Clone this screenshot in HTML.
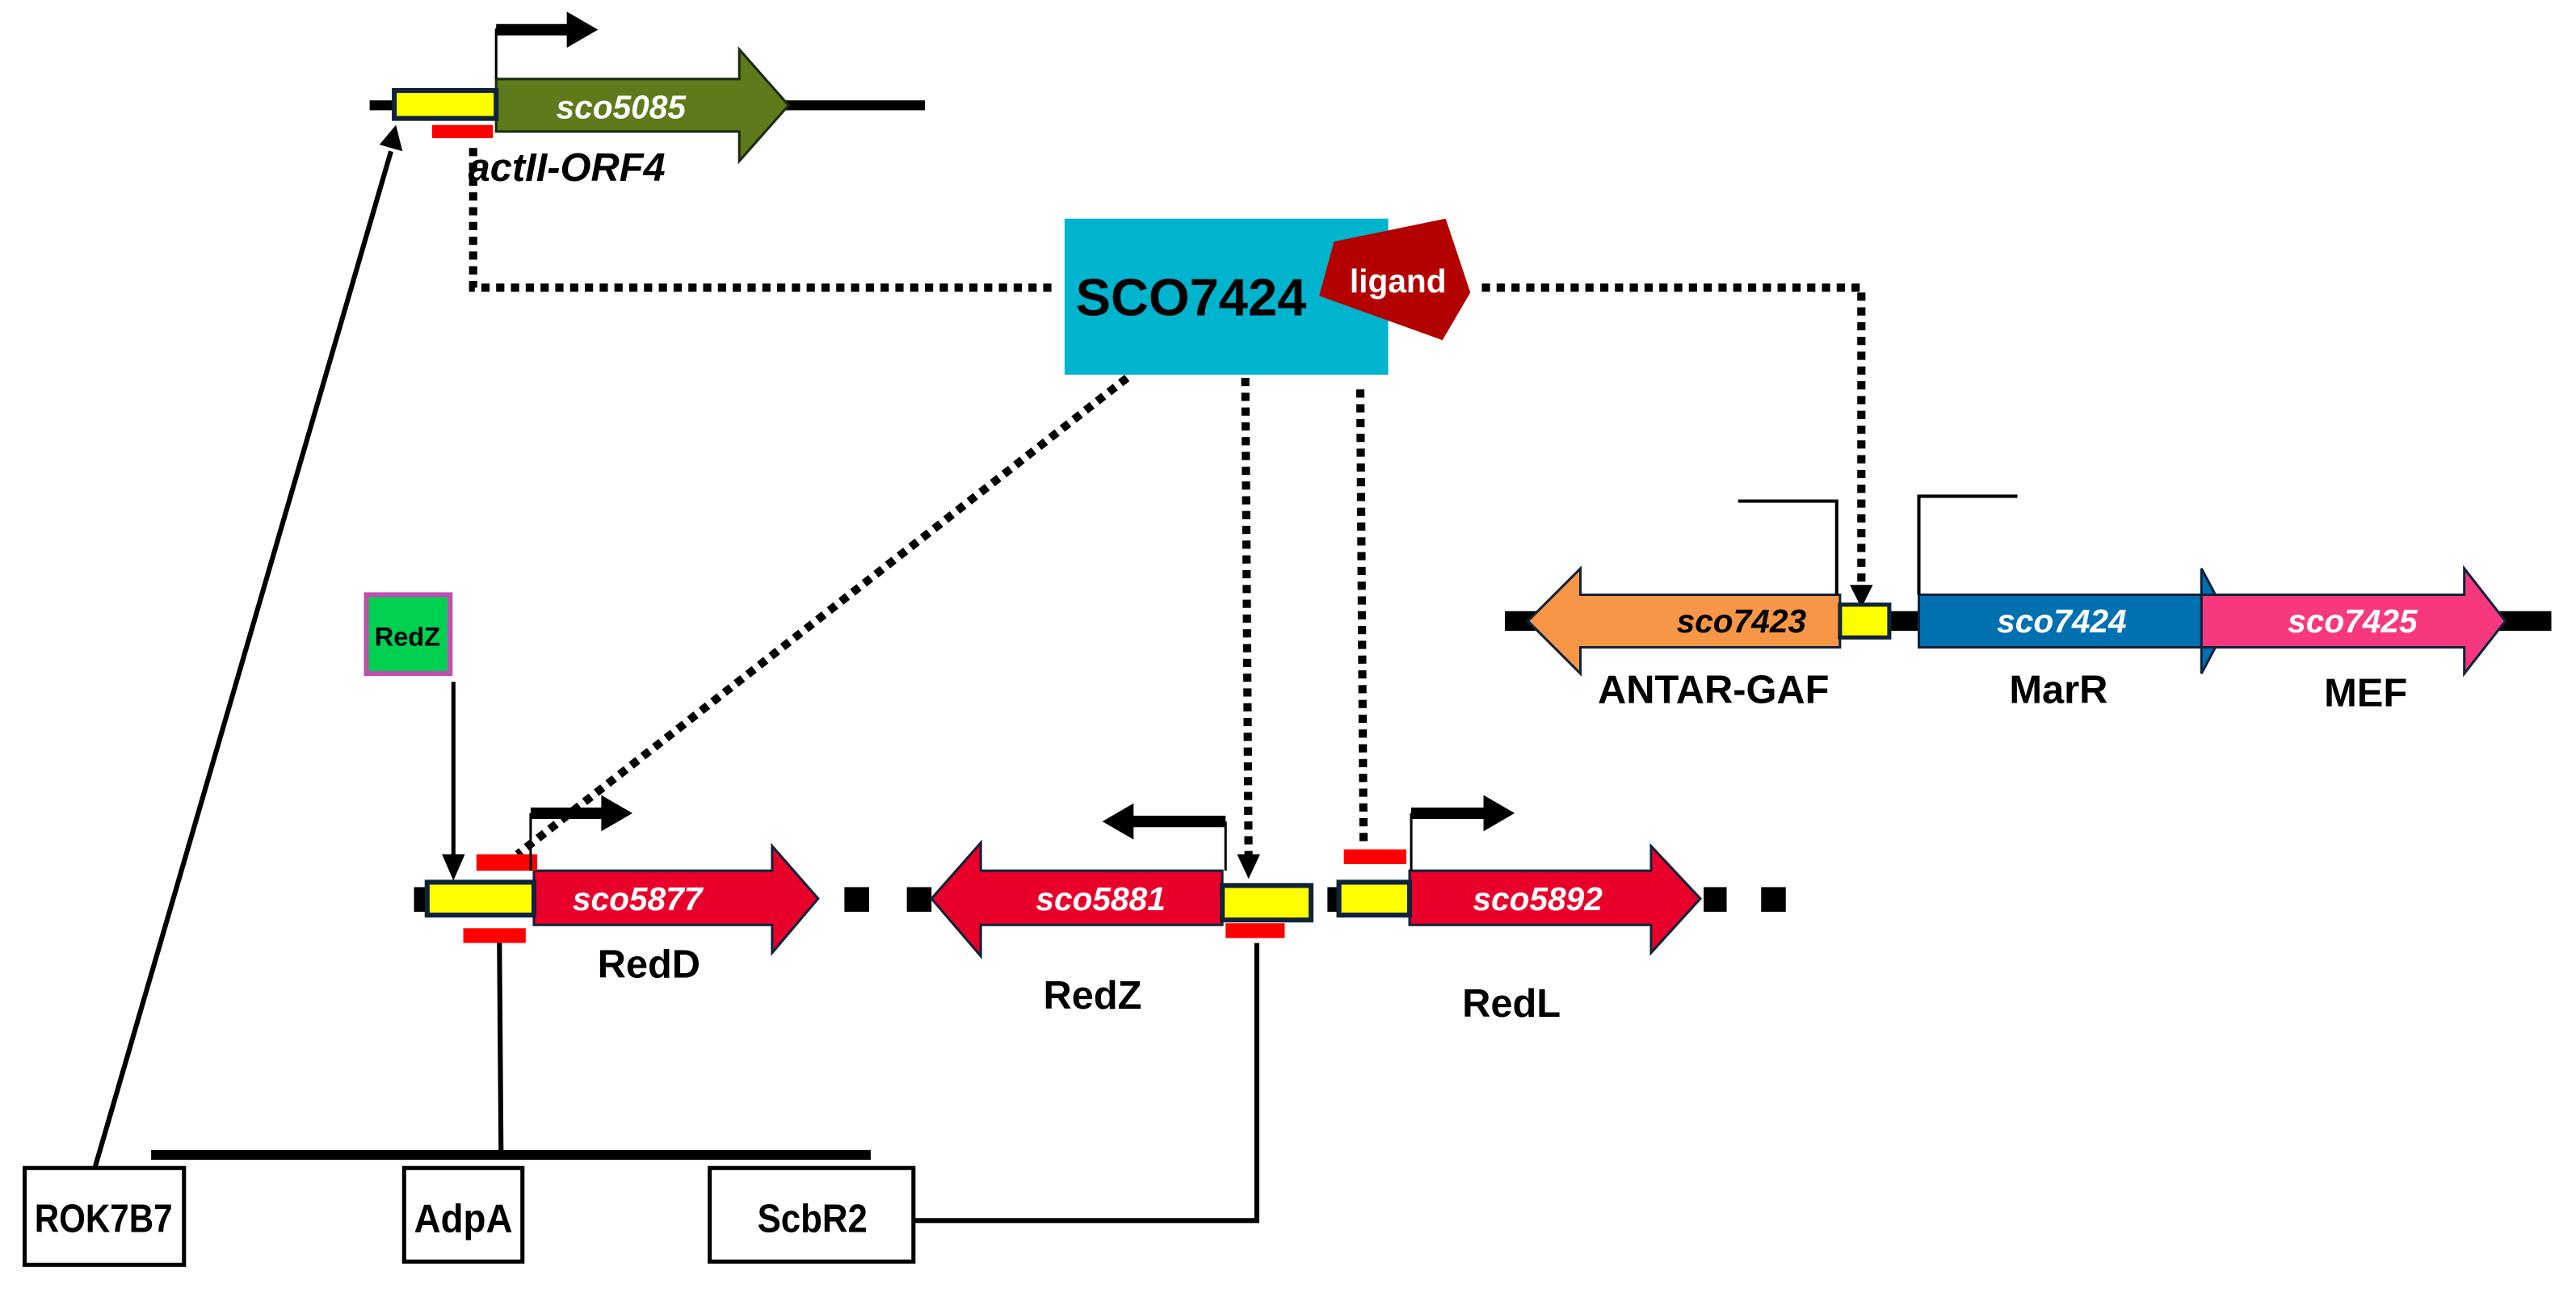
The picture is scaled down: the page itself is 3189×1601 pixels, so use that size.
<!DOCTYPE html>
<html><head><meta charset="utf-8"><style>
html,body{margin:0;padding:0;background:#fff}
svg{display:block}
text{font-family:"Liberation Sans Narrow","Liberation Sans",sans-serif;font-weight:bold}
</style></head><body>
<svg width="3189" height="1601" viewBox="0 0 1568 787" xmlns="http://www.w3.org/2000/svg">

<!-- top gene -->
<line x1="225" y1="64" x2="563" y2="64" stroke="#000" stroke-width="6"/>
<path d="M302,48 L450,48 L450,30 L480,64 L450,98 L450,80 L302,80 Z" fill="#5E7A1A" stroke="#1a2a10" stroke-width="1.5"/>
<rect x="240" y="55" width="62" height="17" fill="#ffff00" stroke="#10233a" stroke-width="3"/>
<rect x="263" y="76" width="37" height="8" fill="#ff0000"/>
<text x="378" y="72" font-size="20" fill="#fff" font-style="italic" text-anchor="middle">sco5085</text>
<text x="345" y="110" font-size="24" fill="#000" font-style="italic" text-anchor="middle">actII-ORF4</text>
<polyline points="302,48 302,18 345,18" fill="none" stroke="#000" stroke-width="1.5"/>
<line x1="302" y1="18" x2="350" y2="18" stroke="#000" stroke-width="7"/>
<path d="M345,7 L364,18 L345,29 Z" fill="#000"/>

<!-- dotted from SCO7424 to actII -->
<polyline points="288,90 288,175 640,175" fill="none" stroke="#000" stroke-width="5" stroke-dasharray="5,4"/>
<!-- SCO7424 box -->
<rect x="648" y="133" width="197" height="95" fill="#00B4CE"/>
<text x="725" y="192" font-size="32" fill="#000" text-anchor="middle">SCO7424</text>
<polygon points="812,147 880,133 895,178 878,207 803,180" fill="#B30000"/>
<text x="851" y="178" font-size="20" fill="#fff" text-anchor="middle">ligand</text>

<!-- dotted to right cluster -->
<polyline points="902,175 1133,175 1133,358" fill="none" stroke="#000" stroke-width="5" stroke-dasharray="5,4"/>
<path d="M1126,356 L1140,356 L1133,370 Z" fill="#000"/>
<!-- dotted diagonal -->
<line x1="686" y1="230" x2="315" y2="520" stroke="#000" stroke-width="5" stroke-dasharray="5,4"/>
<line x1="758" y1="230" x2="760" y2="522" stroke="#000" stroke-width="5" stroke-dasharray="5,4"/>
<path d="M753,520 L767,520 L760,535 Z" fill="#000"/>
<line x1="828" y1="237" x2="830" y2="515" stroke="#000" stroke-width="5" stroke-dasharray="5,4"/>

<!-- right cluster -->
<line x1="916" y1="378" x2="1553" y2="378" stroke="#000" stroke-width="12"/>
<path d="M930,378 L962,346 L962,362 L1120,362 L1120,394 L962,394 L962,410 Z" fill="#F79646" stroke="#10233a" stroke-width="1.5"/>
<rect x="1120" y="368" width="30" height="20" fill="#ffff00" stroke="#10233a" stroke-width="2.5"/>
<path d="M1168,362 L1340,362 L1340,346 L1357,378 L1340,410 L1340,394 L1168,394 Z" fill="#0070B0" stroke="#10233a" stroke-width="1.5"/>
<path d="M1340,362 L1500,362 L1500,346 L1525,378 L1500,410 L1500,394 L1340,394 Z" fill="#F7387F" stroke="#10233a" stroke-width="1.5"/>
<text x="1060" y="385" font-size="20" fill="#000" font-style="italic" text-anchor="middle">sco7423</text>
<text x="1255" y="385" font-size="20" fill="#fff" font-style="italic" text-anchor="middle">sco7424</text>
<text x="1432" y="385" font-size="20" fill="#fff" font-style="italic" text-anchor="middle">sco7425</text>
<text x="1043" y="428" font-size="24" fill="#000" text-anchor="middle">ANTAR-GAF</text>
<text x="1253" y="428" font-size="24" fill="#000" text-anchor="middle">MarR</text>
<text x="1440" y="430" font-size="24" fill="#000" text-anchor="middle">MEF</text>
<polyline points="1118,362 1118,305 1058,305" fill="none" stroke="#000" stroke-width="2"/>
<polyline points="1168,362 1168,302 1228,302" fill="none" stroke="#000" stroke-width="2"/>

<!-- RedZ box -->
<rect x="223" y="362" width="51" height="48" fill="#00D050" stroke="#C050B0" stroke-width="3"/>
<text x="248" y="393" font-size="16" fill="#000" text-anchor="middle">RedZ</text>
<line x1="276" y1="415" x2="276" y2="522" stroke="#000" stroke-width="2.5"/>
<path d="M269,520 L283,520 L276,536 Z" fill="#000"/>

<!-- middle genes -->
<rect x="252" y="540" width="10" height="15" fill="#000"/>
<path d="M325,530 L470,530 L470,515 L498,547 L470,580 L470,563 L325,563 Z" fill="#E8002A" stroke="#10233a" stroke-width="1.5"/>
<rect x="260" y="537" width="65" height="20" fill="#ffff00" stroke="#10233a" stroke-width="3"/>
<rect x="290" y="520" width="37" height="10" fill="#ff0000"/>
<rect x="282" y="565" width="38" height="9" fill="#ff0000"/>
<rect x="514" y="540" width="15" height="15" fill="#000"/>
<rect x="552" y="540" width="15" height="15" fill="#000"/>
<path d="M567,547 L597,513 L597,530 L744,530 L744,563 L597,563 L597,582 Z" fill="#E8002A" stroke="#10233a" stroke-width="1.5"/>
<rect x="744" y="539" width="54" height="21" fill="#ffff00" stroke="#10233a" stroke-width="3"/>
<rect x="746" y="562" width="36" height="9" fill="#ff0000"/>
<rect x="808" y="540" width="8" height="15" fill="#000"/>
<path d="M858,530 L1005,530 L1005,515 L1035,547 L1005,580 L1005,563 L858,563 Z" fill="#E8002A" stroke="#10233a" stroke-width="1.5"/>
<rect x="815" y="537" width="43" height="20" fill="#ffff00" stroke="#10233a" stroke-width="3"/>
<rect x="818" y="517" width="38" height="9" fill="#ff0000"/>
<rect x="1037" y="540" width="14" height="15" fill="#000"/>
<rect x="1072" y="540" width="15" height="15" fill="#000"/>
<text x="388" y="554" font-size="20" fill="#fff" font-style="italic" text-anchor="middle">sco5877</text>
<text x="670" y="554" font-size="20" fill="#fff" font-style="italic" text-anchor="middle">sco5881</text>
<text x="936" y="554" font-size="20" fill="#fff" font-style="italic" text-anchor="middle">sco5892</text>
<text x="395" y="595" font-size="24" fill="#000" text-anchor="middle">RedD</text>
<text x="665" y="614" font-size="24" fill="#000" text-anchor="middle">RedZ</text>
<text x="920" y="619" font-size="24" fill="#000" text-anchor="middle">RedL</text>
<!-- promoters -->
<polyline points="323,530 323,495" fill="none" stroke="#000" stroke-width="1.5"/>
<line x1="323" y1="495" x2="368" y2="495" stroke="#000" stroke-width="7"/>
<path d="M366,484 L385,495 L366,506 Z" fill="#000"/>
<polyline points="746,530 746,500" fill="none" stroke="#000" stroke-width="1.5"/>
<line x1="746" y1="500" x2="688" y2="500" stroke="#000" stroke-width="7"/>
<path d="M690,489 L671,500 L690,511 Z" fill="#000"/>
<polyline points="859,530 859,495" fill="none" stroke="#000" stroke-width="1.5"/>
<line x1="859" y1="495" x2="905" y2="495" stroke="#000" stroke-width="7"/>
<path d="M903,484 L922,495 L903,506 Z" fill="#000"/>

<!-- bottom -->
<line x1="92" y1="703" x2="530" y2="703" stroke="#000" stroke-width="6"/>
<line x1="305" y1="703" x2="304" y2="574" stroke="#000" stroke-width="3"/>
<line x1="58" y1="710" x2="238" y2="92" stroke="#000" stroke-width="3"/>
<path d="M231,88 L245,92 L241,76 Z" fill="#000"/>
<polyline points="557,743 765,743 765,574" fill="none" stroke="#000" stroke-width="3"/>
<rect x="15" y="711" width="97" height="59" fill="#fff" stroke="#000" stroke-width="2.5"/>
<rect x="246" y="711" width="72" height="57" fill="#fff" stroke="#000" stroke-width="2.5"/>
<rect x="432" y="711" width="124" height="57" fill="#fff" stroke="#000" stroke-width="2.5"/>
<text x="21" y="750" font-size="24" fill="#000" textLength="84" lengthAdjust="spacingAndGlyphs">ROK7B7</text>
<text x="252" y="750" font-size="24" fill="#000" textLength="60" lengthAdjust="spacingAndGlyphs">AdpA</text>
<text x="461" y="750" font-size="24" fill="#000" textLength="67" lengthAdjust="spacingAndGlyphs">ScbR2</text>
</svg>
</body></html>
